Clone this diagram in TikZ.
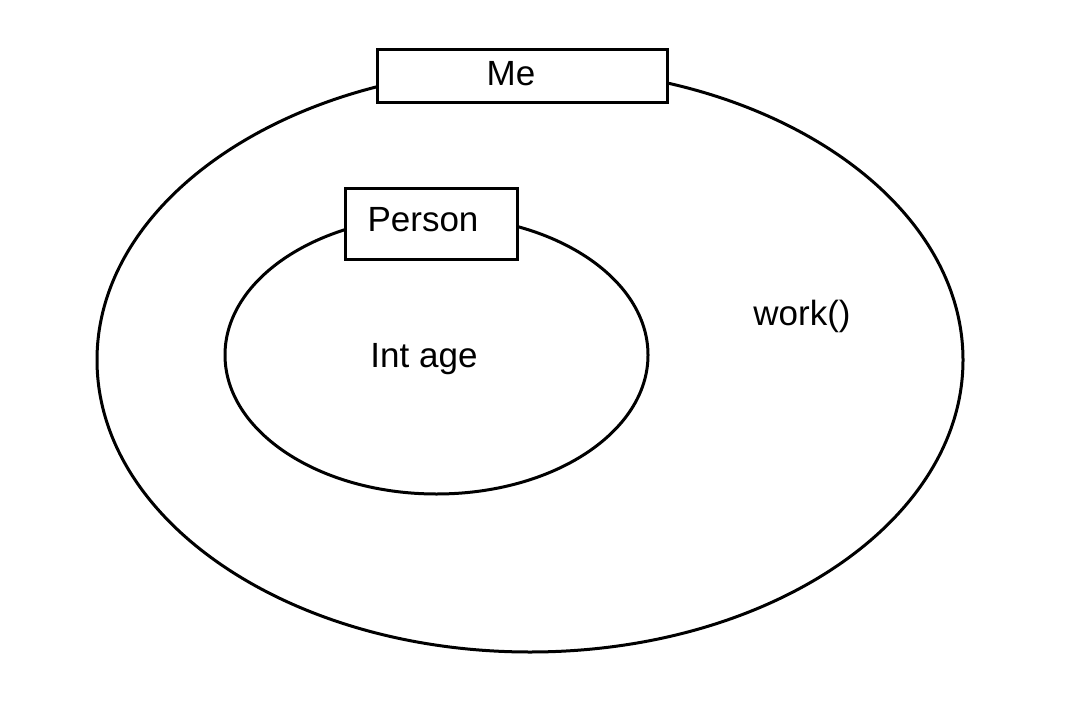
\documentclass[tikz,border=0pt]{standalone}
\usepackage{fontspec}
\setmainfont{Liberation Sans}
\usetikzlibrary{shapes.geometric}
\begin{document}
\begin{tikzpicture}[x=1pt,y=-1pt,
  ring/.style={draw=black,line width=3pt,ellipse,inner sep=0pt},
  labelbox/.style={draw=black,fill=white,line width=3pt,inner sep=0pt},
  txt/.style={font=\fontsize{35}{40}\selectfont,inner sep=0pt}]
\useasboundingbox[fill=white] (0,0) rectangle (1078,717);
\node[ring,minimum width=866pt,minimum height=584pt] (outer) at (530,360) {};
\node[labelbox,minimum width=290pt,minimum height=52pt] (me) at (522,76) {};
\node[txt] (metxt) at (511,74) {Me};
\node[ring,minimum width=423pt,minimum height=278pt] (inner) at (436.5,355) {};
\node[labelbox,minimum width=172pt,minimum height=71pt] (person) at (431,223.5) {};
\node[txt] (persontxt) at (423,220) {Person};
\node[txt] (age) at (424,359) {Int age};
\node[txt] (work) at (802,316) {work()};
\end{tikzpicture}
\end{document}
